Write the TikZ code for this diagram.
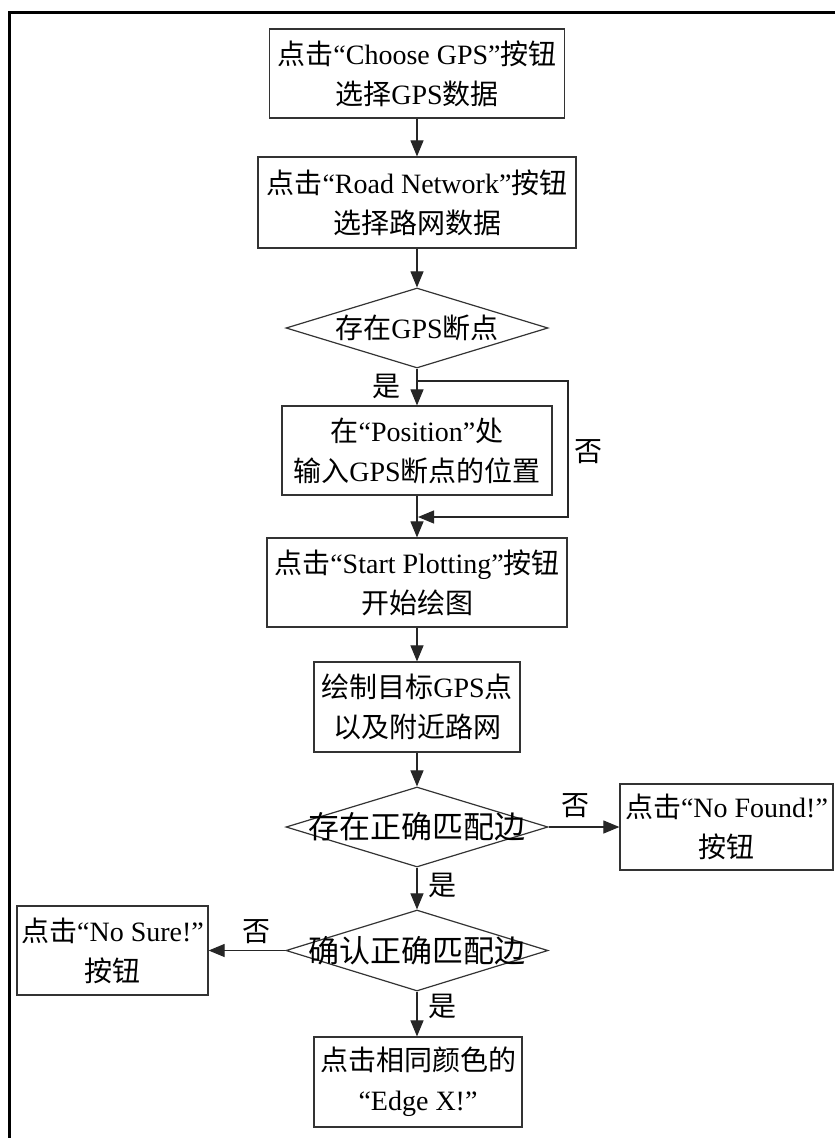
\documentclass[tikz,border=0pt]{standalone}
\usepackage{fontspec}
\setmainfont{Liberation Serif}
\newfontfamily\cjkfont{Noto Sans CJK SC}
\newcommand{\zh}[1]{{\cjkfont #1}}
\usetikzlibrary{shapes.geometric,arrows.meta}
\begin{document}
\begin{tikzpicture}[x=1pt,y=-1pt,
  every node/.style={font=\fontsize{28}{40}\selectfont},
  box/.style={draw=black!80, line width=1.2pt, inner sep=0pt, align=center, minimum height=89pt},
  dia/.style={draw=black!80, line width=1.2pt, diamond, inner sep=0pt, minimum width=262pt, minimum height=80pt},
  lbl/.style={inner sep=0pt},
  big/.style={font=\fontsize{31}{40}\selectfont},
  arr/.style={line width=1.1pt, draw=black!85, -{Triangle[length=16pt,width=13pt]}},
  ln/.style={line width=1.1pt, draw=black!85}]
\useasboundingbox (0,0) rectangle (835,1138);
\fill[white] (0,0) rectangle (835,1138);
\draw[line width=3pt] (9,1138) -- (9,12) -- (835,12);

\node[box, minimum width=295pt] (b1) at (417,73.5) {\zh{点击}“Choose GPS”\zh{按钮}\\\zh{选择}GPS\zh{数据}};
\node[box, minimum width=318pt, minimum height=91pt] (b2) at (417,202.5) {\zh{点击}“Road Network”\zh{按钮}\\\zh{选择路网数据}};
\node[dia] (d1) at (417,328) {};
\node[lbl] (t1) at (d1) {\zh{存在}GPS\zh{断点}};
\node[box, minimum width=270pt] (b3) at (417,450.5) {\zh{在}“Position”\zh{处}\\\zh{输入}GPS\zh{断点的位置}};
\node[box, minimum width=300pt] (b4) at (417,582.5) {\zh{点击}“Start Plotting”\zh{按钮}\\\zh{开始绘图}};
\node[box, minimum width=206pt, minimum height=90pt] (b5) at (417,707) {\zh{绘制目标}GPS\zh{点}\\\zh{以及附近路网}};
\node[dia] (d2) at (417,827) {};
\node[lbl, big] (t2) at (d2) {\zh{存在正确匹配边}};
\node[box, minimum width=213pt, minimum height=86pt] (nf) at (726.5,827) {\zh{点击}“No Found!”\\\zh{按钮}};
\node[dia, minimum height=81pt] (d3) at (417,950.5) {};
\node[lbl, big] (t3) at (d3) {\zh{确认正确匹配边}};
\node[box, minimum width=191pt] (ns) at (112.5,950.5) {\zh{点击}“No Sure!”\\\zh{按钮}};
\node[box, minimum width=208pt, minimum height=90pt] (be) at (418,1082) {\zh{点击相同颜色的}\\“Edge X!”};

\coordinate (j1) at (417,381);
\coordinate (c1) at (568,381);
\coordinate (c2) at (568,517);
\coordinate (j2) at (418,517);

\draw[arr] (b1.south) -- (b2.north);
\draw[arr] (b2.south) -- (d1.north);
\draw[arr] (d1.south) -- (b3.north);
\draw[arr] (j1) -- (c1) -- (c2) -- (j2);
\draw[arr] (b3.south) -- (b4.north);
\draw[arr] (b4.south) -- (b5.north);
\draw[arr] (b5.south) -- (d2.north);
\draw[arr] (d2.east) -- (nf.west);
\draw[arr] (d2.south) -- (d3.north);
\draw[arr] (d3.west) -- (ns.east);
\draw[arr] (d3.south) -- (d3.south |- be.north);

\node[lbl] (y1) at (386,386) {\zh{是}};
\node[lbl] (n1) at (588,452) {\zh{否}};
\node[lbl] (n2) at (575,806) {\zh{否}};
\node[lbl] (y2) at (442,885) {\zh{是}};
\node[lbl] (n3) at (256,932) {\zh{否}};
\node[lbl] (y3) at (442,1006) {\zh{是}};
\end{tikzpicture}
\end{document}
